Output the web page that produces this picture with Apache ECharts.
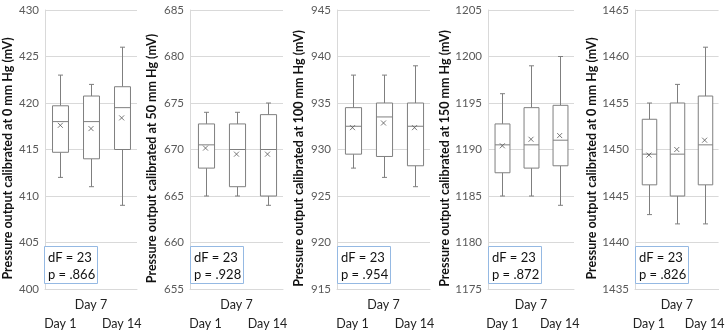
<!DOCTYPE html>
<html>
<head>
<meta charset="utf-8">
<script src="https://cdn.jsdelivr.net/npm/echarts@6/dist/echarts.min.js"></script>
<style>
  html, body { margin: 0; padding: 0; background: #fff; }
  #chart { width: 727px; height: 333px; }
</style>
</head>
<body>
<div id="chart"></div>
<script>
// categories
var days = ['Day 1', 'Day 7', 'Day 14']

// pressure levels in the y titles (the last panel says 0 in the source too)
var pressures = ['0', '50', '100', '150', '0']

// axis ranges
var yMin = [400, 655, 915, 1175, 1435]
var yMax = [430, 685, 945, 1205, 1465]

// [min, q1, median, q3, max] per day
var box0 = [[412, 414.7, 418, 419.7, 423], [411, 414, 418, 420.75, 422], [409, 415, 419.5, 421.75, 426]]
var box1 = [[665, 668, 670.5, 672.75, 674], [665, 666, 670, 672.75, 674], [664, 665, 670, 673.75, 675]]
var box2 = [[928, 929.5, 932.5, 934.5, 938], [927, 929.25, 933.5, 935, 938], [926, 928.25, 932.5, 935, 939]]
var box3 = [[1185, 1187.5, 1190.5, 1192.75, 1196], [1185, 1188, 1190.5, 1194.5, 1199], [1184, 1188.25, 1191, 1194.75, 1200]]
var box4 = [[1443, 1446.2, 1449.5, 1453.25, 1455], [1442, 1445, 1449.5, 1455, 1457], [1442, 1446.2, 1450.5, 1455.75, 1461]]

// means (the x marks)
var mean0 = [417.6, 417.25, 418.4]
var mean1 = [670.15, 669.5, 669.5]
var mean2 = [932.35, 932.85, 932.35]
var mean3 = [1190.4, 1191.1, 1191.5]
var mean4 = [1449.4, 1450, 1451]

// stats text
var dfs = [23, 23, 23, 23, 23]
var pvals = ['.866', '.928', '.954', '.872', '.826']

var boxes = [box0, box1, box2, box3, box4]
var means = [mean0, mean1, mean2, mean3, mean4]

// layout
var gridLeft = [44, 190, 337, 488, 635]
var gridWidth = [93, 93, 93, 86, 86]
var nameGaps = [31, 32, 32, 37, 37]
var gridTop = 10
var gridHeight = 283

var lineColor = '#7f7f7f'

function renderBox(params, api) {
    var x = api.value(0)
    var bw = api.size([1, 0])[0] * 0.52
    var cap = 5
    var pMin = api.coord([x, api.value(1)])
    var pQ1 = api.coord([x, api.value(2)])
    var pMed = api.coord([x, api.value(3)])
    var pQ3 = api.coord([x, api.value(4)])
    var pMax = api.coord([x, api.value(5)])
    var cx = Math.round(pMin[0]) + 0.5
    var left = cx - bw / 2
    var st = { stroke: lineColor, lineWidth: 1, fill: null }
    return {
        type: 'group',
        children: [
            { type: 'line', shape: { x1: cx, y1: pMax[1], x2: cx, y2: pQ3[1] }, style: st },
            { type: 'line', shape: { x1: cx, y1: pQ1[1], x2: cx, y2: pMin[1] }, style: st },
            { type: 'line', shape: { x1: cx - cap / 2, y1: pMax[1], x2: cx + cap / 2, y2: pMax[1] }, style: st },
            { type: 'line', shape: { x1: cx - cap / 2, y1: pMin[1], x2: cx + cap / 2, y2: pMin[1] }, style: st },
            { type: 'rect', shape: { x: left, y: pQ3[1], width: bw, height: pQ1[1] - pQ3[1] }, style: { stroke: lineColor, lineWidth: 1, fill: '#fff' } },
            { type: 'line', shape: { x1: left, y1: pMed[1], x2: left + bw, y2: pMed[1] }, style: st }
        ]
    }
}

var grids = [], xAxes = [], yAxes = [], series = [], graphics = []

for (var i = 0; i < 5; i++) {
    grids.push({ left: gridLeft[i], top: gridTop, width: gridWidth[i], height: gridHeight })
    xAxes.push({
        type: 'category',
        gridIndex: i,
        data: days,
        axisLine: { lineStyle: { color: '#d9d9d9' } },
        axisTick: { show: false },
        axisLabel: {
            interval: 0,
            margin: 6,
            color: '#222',
            fontFamily: 'Lato',
            fontSize: 12.5,
            lineHeight: 19,
            formatter: function (v, idx) {
                return idx === 1 ? v : '\n' + v
            }
        }
    })
    yAxes.push({
        type: 'value',
        gridIndex: i,
        min: yMin[i],
        max: yMax[i],
        interval: 5,
        name: 'Pressure output calibrated at ' + pressures[i] + ' mm Hg (mV)',
        nameLocation: 'middle',
        nameGap: nameGaps[i],
        nameTextStyle: { fontFamily: 'Lato', fontWeight: 'bold', fontSize: 12.5, color: '#111', padding: [0, 18, 0, 0] },
        axisLine: { show: true, lineStyle: { color: '#d9d9d9' } },
        axisTick: { show: false },
        splitLine: { lineStyle: { color: '#d9d9d9' } },
        axisLabel: {
            color: '#595959', fontFamily: 'Lato', fontSize: 11.5, margin: 6,
            formatter: function (v) { return String(v) }
        }
    })
    series.push({
        type: 'custom',
        xAxisIndex: i,
        yAxisIndex: i,
        renderItem: renderBox,
        data: boxes[i].map(function (b, k) { return [k].concat(b) }),
        z: 2
    })
    series.push({
        type: 'scatter',
        xAxisIndex: i,
        yAxisIndex: i,
        symbol: 'path://M0,0L10,10M10,0L0,10',
        symbolSize: 5,
        itemStyle: { color: 'none', borderColor: '#595959', borderWidth: 1 },
        data: means[i].map(function (m, k) { return [k, m] }),
        z: 3
    })
    graphics.push({
        type: 'rect',
        shape: { x: gridLeft[i] + 0.5, y: 246.5, width: 53, height: 37 },
        style: { fill: '#fff', stroke: '#95b9e3', lineWidth: 1 },
        z: 10
    })
    graphics.push({
        type: 'text',
        x: gridLeft[i] + 4,
        y: 249,
        style: {
            text: 'dF = ' + dfs[i] + '\np = ' + pvals[i],
            font: '13px Lato',
            fill: '#111',
            lineHeight: 17
        },
        z: 11
    })
}

var myChart = echarts.init(document.getElementById('chart'))
myChart.setOption({
    animation: false,
    grid: grids,
    xAxis: xAxes,
    yAxis: yAxes,
    series: series,
    graphic: graphics
})
</script>
</body>
</html>
